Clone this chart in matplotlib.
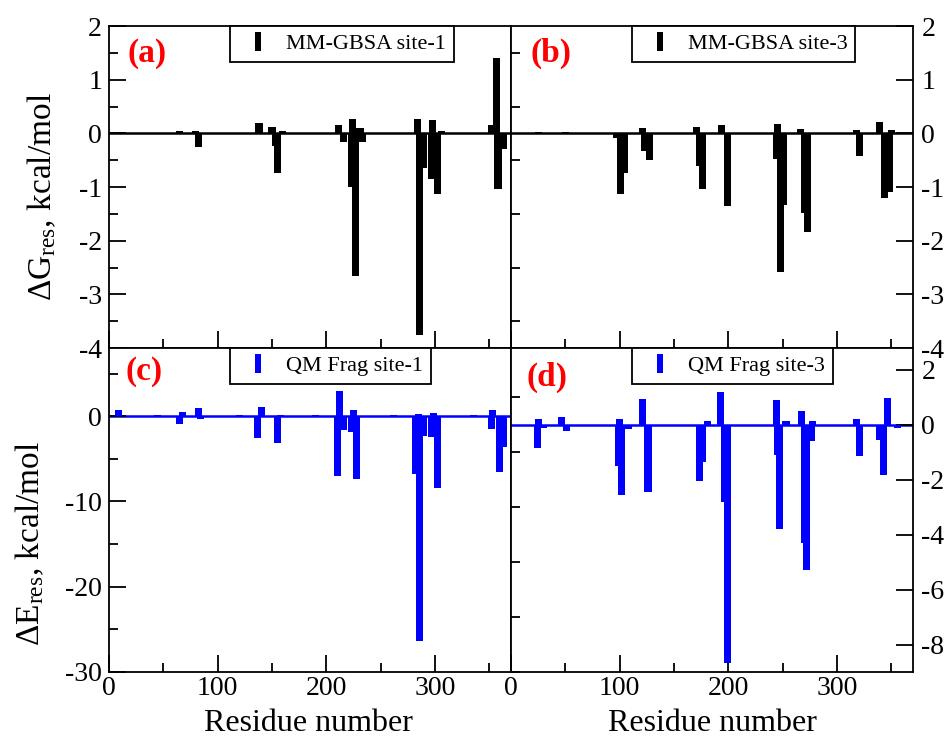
import matplotlib
matplotlib.use("Agg")
import matplotlib.pyplot as plt
from matplotlib.ticker import MultipleLocator
from matplotlib.patches import Rectangle
from matplotlib.legend_handler import HandlerPatch

plt.rcParams['font.family'] = ['Liberation Serif', 'DejaVu Serif']
plt.rcParams['mathtext.fontset'] = 'custom'
plt.rcParams['mathtext.rm'] = 'Liberation Serif'
plt.rcParams['mathtext.it'] = 'Liberation Serif:italic'
plt.rcParams['axes.unicode_minus'] = False

# ---------------- data ----------------
# (a) MM-GBSA site-1
res_a = [10, 65, 80, 82, 138, 150, 153, 155, 160, 211, 216, 224, 223, 227, 231, 233,
         284, 286, 289, 297, 298, 302, 306, 352, 357, 358, 363]
val_a = [0.03, 0.04, 0.05, -0.25, 0.19, 0.12, -0.23, -0.74, 0.05, 0.16, -0.16, 0.27, -1.0, -2.66, 0.1, -0.17,
         0.27, -3.75, -0.64, -0.85, 0.24, -1.13, 0.05, 0.15, 1.41, -1.04, -0.3]
# (b) MM-GBSA site-3
res_b = [25, 27, 50, 52, 97, 101, 104, 121, 123, 127, 171, 173, 176, 194, 199,
         245, 244, 248, 251, 266, 270, 273, 318, 321, 339, 344, 348, 350]
val_b = [0.02, -0.02, 0.02, -0.02, -0.08, -1.13, -0.74, 0.1, -0.33, -0.49, 0.12, -0.6, -1.04, 0.15, -1.36,
         0.18, -0.48, -2.59, -1.33, 0.09, -1.49, -1.83, 0.06, -0.42, 0.22, -1.21, -1.1, 0.06]
# (c) QM Frag site-1
res_c = [9, 45, 65, 68, 82, 84, 120, 137, 140, 155, 158, 190, 210, 212, 216, 223, 225, 228,
         262, 282, 285, 286, 289, 297, 299, 302, 335, 352, 353, 359, 363]
val_c = [0.7, 0.1, -0.9, 0.5, 1.0, -0.3, 0.1, -2.5, 1.05, -3.16, 0.1, 0.1, -7.07, 3.0, -1.6, -1.9, 0.78, -7.4,
         0.1, -6.76, 0.3, -26.4, -2.3, -2.4, 0.4, -8.4, 0.1, -1.5, 0.75, -6.56, -3.6]
# (d) QM Frag site-3
res_d = [24, 25, 30, 46, 51, 99, 100, 102, 108, 121, 126, 173, 176, 181, 193, 196, 199,
         245, 244, 247, 253, 267, 270, 272, 276, 277, 318, 321, 339, 343, 346, 356]
val_d = [-0.84, 0.2, -0.1, 0.3, -0.23, -1.5, 0.23, -2.55, -0.15, 0.93, -2.46, -2.04, -1.35, 0.15, 1.2, -2.8, -8.68,
         -1.1, 0.9, -3.8, 0.15, 0.5, -4.3, -5.3, -0.6, 0.15, 0.2, -1.15, -0.55, -1.82, 0.98, -0.1]

legend_labels = ["MM-GBSA site-1", "MM-GBSA site-3", "QM Frag site-1", "QM Frag site-3"]
panel_tags = ["(a)", "(b)", "(c)", "(d)"]
xlabel = "Residue number"
ylabel_top = r"ΔG$_{\rm res}$, kcal/mol"
ylabel_bot = r"ΔE$_{\rm res}$, kcal/mol"

BLACK = "#000000"
BLUE = "#0000ff"
RED = "#ff0000"

fig = plt.figure(figsize=(9.48, 7.37), dpi=100)
L, W = 0.1150, 0.4241
ax_a = fig.add_axes([L, 0.5278, W, 0.4369])
ax_b = fig.add_axes([L + W, 0.5278, W, 0.4369])
ax_c = fig.add_axes([L, 0.0882, W, 0.4396])
ax_d = fig.add_axes([L + W, 0.0882, W, 0.4396])


def make_rect(legend, orig_handle, xdescent, ydescent, width, height, fontsize):
    w = 0.27 * fontsize
    h = 0.82 * fontsize
    cy = height / 2 - ydescent
    return Rectangle((-xdescent + 0.54 * width, cy - h / 2), w, h)


panels = [
    (ax_a, res_a, val_a, BLACK, (-4, 2), 1, 0.5, 'left', legend_labels[0], panel_tags[0], (0.095, 0.916), 0.30),
    (ax_b, res_b, val_b, BLACK, (-4, 2), 1, 0.5, 'right', legend_labels[1], panel_tags[1], (0.10, 0.916), 0.30),
    (ax_c, res_c, val_c, BLUE, (-30, 8), 10, 5, 'left', legend_labels[2], panel_tags[2], (0.086, 0.928), 0.30),
    (ax_d, res_d, val_d, BLUE, (-9, 2.8), 2, 1, 'right', legend_labels[3], panel_tags[3], (0.09, 0.91), 0.30),
]

for i, (ax, xs, ys, col, ylim, maj, mnr, side, lab, tag, tagpos, legx) in enumerate(panels):
    ax.axhline(0, color=col, lw=1.8, zorder=1)
    ax.bar(xs, ys, width=6.5, color=col, edgecolor='none', linewidth=0, zorder=2)
    ax.set_xlim(0, 370)
    ax.set_ylim(*ylim)
    ax.xaxis.set_major_locator(MultipleLocator(100))
    ax.xaxis.set_minor_locator(MultipleLocator(50))
    ax.yaxis.set_major_locator(MultipleLocator(maj))
    ax.yaxis.set_minor_locator(MultipleLocator(mnr))
    for s in ax.spines.values():
        s.set_linewidth(1.3)
    ax.tick_params(which='both', direction='in', width=1.3, labelsize=20, top=False)
    ax.tick_params(which='major', length=12)
    ax.tick_params(which='minor', length=6.5)
    ax.tick_params(axis='x', pad=3)
    if side == 'left':
        ax.tick_params(axis='y', left=True, right=False, labelleft=True, labelright=False, pad=5)
    else:
        ax.tick_params(axis='y', left=False, right=True, labelleft=False, labelright=True, pad=6)
    if i < 2:
        ax.tick_params(axis='x', labelbottom=False)
    else:
        ax.text(0.495 if i == 2 else 0.502, -0.182, xlabel, transform=ax.transAxes,
                ha='center', va='baseline', fontsize=23)
    ax.text(tagpos[0], tagpos[1], tag, transform=ax.transAxes, color=RED,
            fontsize=24, fontweight='bold', ha='center', va='center')
    proxy = Rectangle((0, 0), 1, 1, facecolor=col, edgecolor='none')
    leg = ax.legend(handles=[proxy], labels=[lab], loc='upper left', bbox_to_anchor=(legx, 1.0),
                    borderaxespad=0, fontsize=16, frameon=True, fancybox=False, framealpha=1,
                    edgecolor=BLACK, handlelength=1.5, handleheight=0.7,
                    handletextpad=0.68, borderpad=0.35,
                    handler_map={Rectangle: HandlerPatch(patch_func=make_rect)})
    leg.get_frame().set_linewidth(1.3)

ax_a.text(-0.167, 0.469, ylabel_top, transform=ax_a.transAxes, rotation=90,
          ha='center', va='center', fontsize=24)
ax_c.text(-0.197, 0.398, ylabel_bot, transform=ax_c.transAxes, rotation=90,
          ha='center', va='center', fontsize=24)

fig.savefig("out.png", dpi=100)
